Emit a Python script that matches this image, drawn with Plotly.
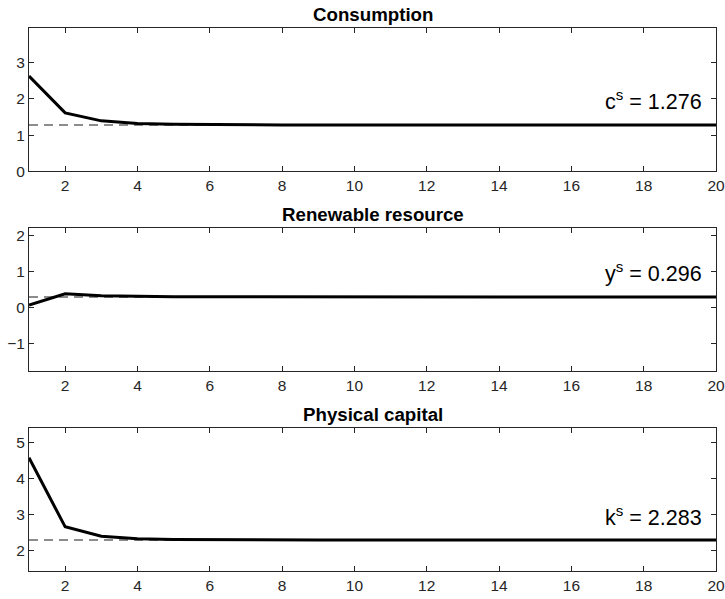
"""
Transition paths towards the steady state: consumption, renewable resource, physical capital.
"""

import plotly.graph_objects as go
from plotly.subplots import make_subplots

periods = list(range(1, 21))

consumption = [2.62, 1.61, 1.39, 1.32, 1.295, 1.284, 1.280, 1.278, 1.277, 1.276,
               1.276, 1.276, 1.276, 1.276, 1.276, 1.276, 1.276, 1.276, 1.276, 1.276]
resource = [0.07, 0.385, 0.330, 0.310, 0.302, 0.299, 0.297, 0.297, 0.296, 0.296,
            0.296, 0.296, 0.296, 0.296, 0.296, 0.296, 0.296, 0.296, 0.296, 0.296]
capital = [4.57, 2.65, 2.39, 2.315, 2.294, 2.287, 2.285, 2.284, 2.283, 2.283,
           2.283, 2.283, 2.283, 2.283, 2.283, 2.283, 2.283, 2.283, 2.283, 2.283]

titles = ["Consumption", "Renewable resource", "Physical capital"]
steady_states = [1.276, 0.296, 2.283]
steady_labels = ["c<sup>s</sup> = 1.276", "y<sup>s</sup> = 0.296", "k<sup>s</sup> = 2.283"]
y_ranges = [[0, 3.94], [-1.76, 2.21], [1.42, 5.40]]
y_ticks = [[0, 1, 2, 3], [-1, 0, 1, 2], [2, 3, 4, 5]]
x_ticks = list(range(2, 21, 2))

AXIS_COLOR = "#262626"
FONT = "Liberation Sans, Arial, sans-serif"

# panel positions as fractions of the 725x599 page
domains = [[0.7137, 0.9533], [0.3806, 0.6194], [0.0467, 0.2855]]
x_domain = [0.04, 0.9876]

fig = make_subplots(rows=3, cols=1)
series = [consumption, resource, capital]

for i, values in enumerate(series):
    row = i + 1
    fig.add_trace(
        go.Scatter(
            x=[periods[0], periods[-1]],
            y=[steady_states[i], steady_states[i]],
            mode="lines",
            line={"color": "#1a1a1a", "width": 1.1, "dash": "9px,6px"},
            showlegend=False,
        ),
        row=row,
        col=1,
    )
    fig.add_trace(
        go.Scatter(
            x=periods,
            y=values,
            mode="lines",
            line={"color": "black", "width": 3},
            showlegend=False,
        ),
        row=row,
        col=1,
    )
    fig.update_xaxes(range=[1, 20], tickvals=x_ticks, domain=x_domain, row=row, col=1)
    fig.update_yaxes(range=y_ranges[i], tickvals=y_ticks[i], domain=domains[i], row=row, col=1)

    xref = "x" if i == 0 else f"x{row}"
    yref = "y" if i == 0 else f"y{row}"
    fig.add_annotation(
        x=19.68,
        y=steady_states[i] + 0.68,
        xref=xref,
        yref=yref,
        text=steady_labels[i],
        showarrow=False,
        xanchor="right",
        yanchor="middle",
        font={"size": 21.5, "color": "black", "family": FONT},
    )
    fig.add_annotation(
        x=(x_domain[0] + x_domain[1]) / 2,
        y=domains[i][1],
        xref="paper",
        yref="paper",
        text=f"<b>{titles[i]}</b>",
        showarrow=False,
        xanchor="center",
        yanchor="bottom",
        yshift=1,
        font={"size": 18.7, "color": "black", "family": FONT},
    )

axis_style = dict(
    showline=True,
    linecolor=AXIS_COLOR,
    linewidth=1,
    mirror="ticks",
    ticks="inside",
    ticklen=5,
    tickcolor=AXIS_COLOR,
    showgrid=False,
    zeroline=False,
    automargin=False,
    ticklabeloverflow="allow",
    tickfont={"size": 15.5, "color": AXIS_COLOR, "family": FONT},
)
fig.update_xaxes(**axis_style)
fig.update_yaxes(**axis_style)
fig.update_layout(
    width=725,
    height=599,
    margin={"l": 0, "r": 0, "t": 0, "b": 0},
    paper_bgcolor="white",
    plot_bgcolor="white",
    font={"family": FONT},
)

# drop the browser's default body margin so the figure sits at the page corner
fig.write_html(
    "out.html",
    config={"displayModeBar": False},
    post_script="document.body.style.margin = '0';",
)
